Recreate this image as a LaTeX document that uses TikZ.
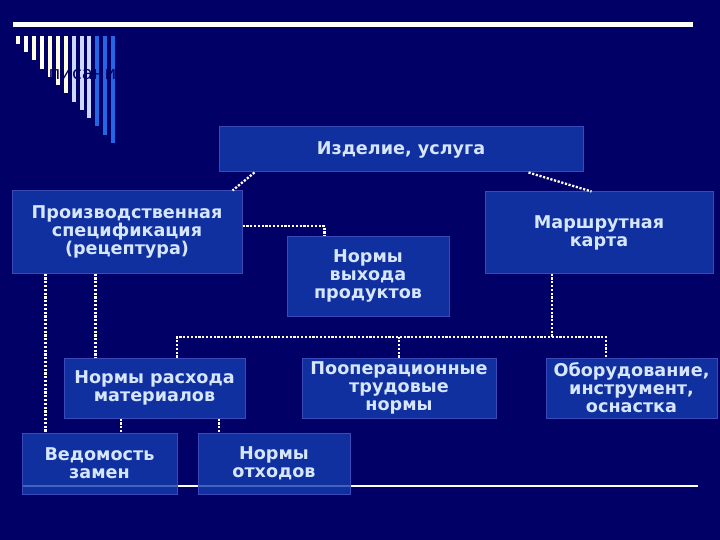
\documentclass[tikz,border=0pt]{standalone}
\usepackage{fontspec}
\setmainfont{DejaVu Sans}
\usepackage{xcolor}
\definecolor{navy}{HTML}{000066}
\definecolor{boxblue}{RGB}{20,60,175}
\definecolor{boxedge}{RGB}{58,74,184}
\definecolor{textblue}{HTML}{D6E6FF}
\definecolor{cream}{HTML}{FFFDE0}
\definecolor{lavender}{HTML}{CCD8FF}
\definecolor{stripeblue}{HTML}{2466E6}

\begin{document}
\begin{tikzpicture}[x=1pt, y=-1pt,
    bx/.style={draw=boxedge, line width=1pt, fill=boxblue, fill opacity=0.8,
      text opacity=1, text=textblue, inner sep=0, align=center,
      font=\fontsize{17.6}{18}\selectfont\bfseries},
    lnk/.style={white, line width=2.3pt, dash pattern=on 2.2pt off 1.6pt}]
\fill[navy] (0,0) rectangle (720,540);
% title bar and stripes
\fill[white] (13,22) rectangle (693,27);
\foreach \i/\c in {0/cream,1/white,2/cream,3/white,4/cream,5/cream,6/cream,
    7/lavender,8/lavender,9/lavender,10/stripeblue,11/stripeblue,12/stripeblue}
  \fill[\c] (18.3+7.9*\i-2,36) rectangle (18.3+7.9*\i+2,44+8.25*\i);
\node[font=\fontsize{18}{18}\selectfont, text=navy] (ttl) at (82.5,75) {писани};
\draw[white, line width=1.2pt] (22,486) -- (698,486);
% boxes
\node[bx, minimum width=364, minimum height=45] (izd) at (401,149.5) {Изделие, услуга};
\node[bx, minimum width=230, minimum height=82] (spec) at (127,232) {Производственная\\спецификация\\(рецептура)};
\node[bx, minimum width=162, minimum height=80] (vyh) at (368,276) {Нормы\\выхода\\продуктов};
\node[bx, minimum width=228, minimum height=81] (marsh) at (599,232.5) {Маршрутная\\карта};
\node[bx, minimum width=181, minimum height=60] (rash) at (154.5,388) {Нормы расхода\\материалов};
\node[bx, minimum width=194, minimum height=60] (trud) at (399,388) {Пооперационные\\трудовые\\нормы};
\node[bx, minimum width=171, minimum height=60] (obor) at (631.5,388) {Оборудование,\\инструмент,\\оснастка};
\node[bx, minimum width=155, minimum height=61] (ved) at (99.5,463.5) {Ведомость\\замен};
\node[bx, minimum width=152, minimum height=61] (otx) at (274,463.5) {Нормы\\отходов};
% links
\coordinate (bus) at (552,337);
\draw[lnk] ([xshift=36]izd.south west) -- ([xshift=-10]spec.north east);
\draw[lnk] ([xshift=-55]izd.south east) -- ([xshift=107]marsh.north west);
\draw[lnk] ([yshift=6]spec.east) -| ([xshift=38]vyh.north west);
\draw[lnk] ([xshift=34]spec.south west) -- ([xshift=34]spec.south west |- ved.north);
\draw[lnk] ([xshift=84]spec.south west) -- ([xshift=84]spec.south west |- rash.north);
\draw[lnk] ([xshift=-47]marsh.south) -- (bus);
\draw[lnk] ([xshift=22.5]rash.north) |- (bus) -| ([xshift=-25.5]obor.north);
\draw[lnk] (trud.north) -- (trud.north |- bus);
\draw[lnk] ([xshift=-33.5]rash.south) -- ([xshift=-33.5]rash.south |- ved.north);
\draw[lnk] ([xshift=64.5]rash.south) -- ([xshift=64.5]rash.south |- otx.north);
\end{tikzpicture}
\end{document}
